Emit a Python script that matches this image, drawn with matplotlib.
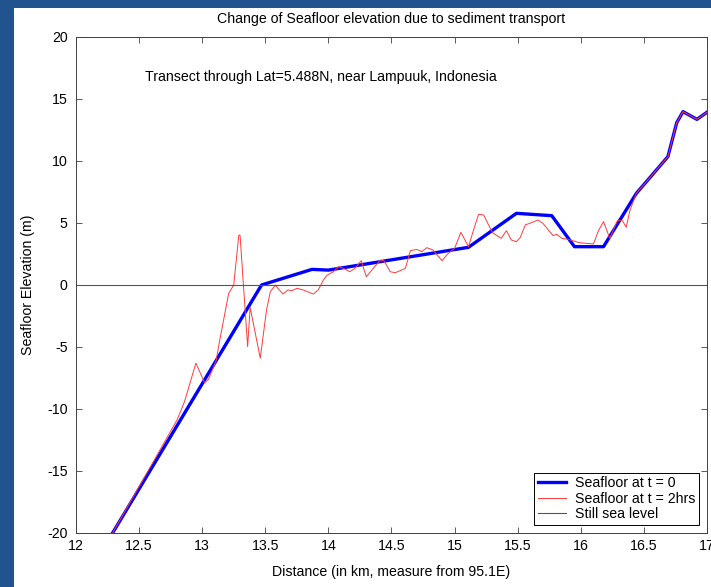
import matplotlib
matplotlib.use("Agg")
from matplotlib import pyplot as plt
from matplotlib.patches import Rectangle

plt.rcParams["font.family"] = ["Liberation Sans", "DejaVu Sans"]
plt.rcParams["axes.unicode_minus"] = False

# seafloor at t = 0 (km, m)
x_t0 = [12.29, 13.47, 13.87, 14.00, 15.11, 15.49, 15.77, 15.95, 16.18,
        16.44, 16.69, 16.76, 16.81, 16.92, 17.0]
z_t0 = [-20.0, 0.0, 1.26, 1.2, 3.04, 5.78, 5.59, 3.09, 3.09,
        7.39, 10.35, 13.09, 13.98, 13.36, 13.93]

# seafloor at t = 2hrs
x_t2 = [12.29, 12.80, 12.86, 12.95, 13.02, 13.05, 13.11, 13.14, 13.21, 13.25,
        13.29, 13.30, 13.36, 13.38, 13.46, 13.51, 13.54, 13.58, 13.60, 13.64,
        13.68, 13.71, 13.75, 13.80, 13.88, 13.92, 13.96, 13.99, 14.04, 14.08,
        14.12, 14.17, 14.21, 14.26, 14.30, 14.41, 14.44, 14.49, 14.53, 14.61,
        14.65, 14.70, 14.74, 14.78, 14.83, 14.90, 14.95, 15.00, 15.05, 15.11,
        15.15, 15.19, 15.23, 15.30, 15.37, 15.41, 15.45, 15.49, 15.52, 15.56,
        15.61, 15.66, 15.70, 15.78, 15.81, 15.85, 15.90, 15.99, 16.10, 16.14,
        16.18, 16.23, 16.29, 16.33, 16.36, 16.39, 16.44, 16.69, 16.76, 16.81,
        16.92, 17.0]
z_t2 = [-20.0, -10.9, -9.4, -6.3, -7.9, -7.6, -6.1, -4.4, -0.67, 0.0,
        4.03, 4.0, -4.97, -1.8, -5.9, -2.0, -0.54, 0.0, -0.27, -0.73,
        -0.4, -0.46, -0.27, -0.4, -0.73, -0.4, 0.4, 0.8, 1.07, 1.48,
        1.34, 1.07, 1.34, 1.96, 0.67, 2.0, 1.96, 1.07, 0.99, 1.34,
        2.77, 2.87, 2.69, 3.01, 2.82, 1.96, 2.55, 2.96, 4.25, 3.09,
        4.43, 5.70, 5.65, 4.22, 3.76, 4.38, 3.63, 3.49, 3.82, 4.84,
        5.03, 5.24, 4.97, 3.98, 4.09, 3.76, 3.68, 3.41, 3.31, 4.38,
        5.11, 3.76, 5.19, 5.19, 4.65, 6.05, 7.39, 10.35, 13.09, 13.98,
        13.36, 13.93]

x_ticks = [12, 12.5, 13, 13.5, 14, 14.5, 15, 15.5, 16, 16.5, 17]
x_ticklabels = ["12", "12.5", "13", "13.5", "14", "14.5", "15", "15.5",
                "16", "16.5", "17"]
y_ticks = [-20, -15, -10, -5, 0, 5, 10, 15, 20]

fs = 10.2

fig = plt.figure(figsize=(7.11, 5.87), dpi=100, facecolor="#21548f")
fig.patches.append(Rectangle((14 / 711, 0), 697 / 711, 579 / 587,
                             transform=fig.transFigure, facecolor="white",
                             edgecolor="none", zorder=-1))

ax = fig.add_axes([76 / 711, 54 / 587, 631 / 711, 496 / 587])
ax.plot(x_t0, z_t0, color="#0000ff", lw=2.4, label="Seafloor at t = 0")
ax.plot(x_t2, z_t2, color="#ff3b3b", lw=0.7, label="Seafloor at t = 2hrs")
ax.plot([12, 17], [0, 0], color="#555555", lw=0.8, label="Still sea level")

ax.set_xlim(12, 17)
ax.set_ylim(-20, 20)
ax.set_xticks(x_ticks)
ax.set_xticklabels(x_ticklabels)
ax.set_yticks(y_ticks)
ax.tick_params(direction="in", length=4, width=0.6, labelsize=fs,
               top=True, right=True, color="#404040")
ax.tick_params(axis="y", pad=6)
ax.tick_params(axis="x", pad=4)
for s in ax.spines.values():
    s.set_color("#404040")
    s.set_linewidth(0.7)

ax.set_title("Change of Seafloor elevation due to sediment transport",
             fontsize=fs, pad=10)
ax.set_xlabel("Distance (in km, measure from 95.1E)", fontsize=fs, labelpad=9)
ax.set_ylabel("Seafloor Elevation (m)", fontsize=fs, labelpad=9)
ax.text(12.55, 16.75, "Transect through Lat=5.488N, near Lampuuk, Indonesia",
        fontsize=fs, va="center")

leg = ax.legend(loc="lower right", fontsize=fs, fancybox=False,
                framealpha=1, borderpad=0.25, labelspacing=0.1,
                handlelength=2.0, handletextpad=0.6, borderaxespad=0.6)
leg.get_frame().set_edgecolor("black")
leg.get_frame().set_linewidth(0.7)

fig.savefig("out.png", dpi=100, facecolor=fig.get_facecolor())
